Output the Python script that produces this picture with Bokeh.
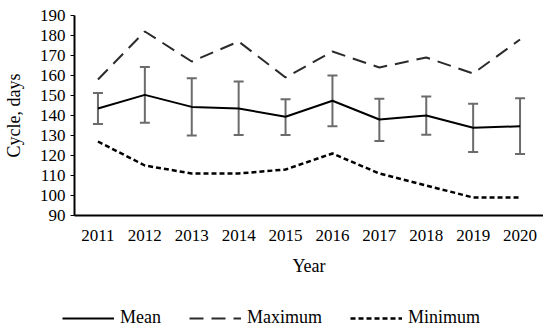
import math
from bokeh.plotting import figure
from bokeh.layouts import column
from bokeh.models import ColumnDataSource, Whisker, TeeHead, Legend, LegendItem, FactorRange
from bokeh.embed import file_html
from bokeh.resources import INLINE

years = ["2011", "2012", "2013", "2014", "2015", "2016", "2017", "2018", "2019", "2020"]
mean = [143.5, 150.3, 144.3, 143.5, 139.4, 147.4, 138.0, 140.0, 133.9, 134.6]
err_upper = [151.3, 164.3, 158.6, 157.0, 148.1, 160.0, 148.4, 149.5, 145.9, 148.6]
err_lower = [135.8, 136.4, 130.0, 130.3, 130.2, 134.6, 127.3, 130.4, 121.7, 120.8]
maximum = [158, 182, 167, 177, 159, 172, 164, 169, 161, 178]
minimum = [127, 115, 111, 111, 113, 121, 111, 105, 99, 99]
y_ticks = list(range(90, 191, 10))
series_names = ["Mean", "Maximum", "Minimum"]

FONT = "Liberation Serif"
STYLES = [dict(line_color="black", line_width=2),
          dict(line_color="#2b2b2b", line_width=2, line_dash="14 8"),
          dict(line_color="black", line_width=2.5, line_dash="5 3")]

p = figure(width=543, height=278, x_range=FactorRange(*years), y_range=(90, 190),
           output_backend="svg", toolbar_location=None,
           min_border_left=72, min_border_right=0, min_border_top=15, min_border_bottom=10)
p.frame_align = False

src = ColumnDataSource(dict(x=years, mean=mean, up=err_upper, lo=err_lower, mx=maximum, mn=minimum))

w = Whisker(base="x", upper="up", lower="lo", source=src, line_color="#6b6b6b", line_width=2,
            upper_head=TeeHead(size=10, line_color="#6b6b6b", line_width=2),
            lower_head=TeeHead(size=10, line_color="#6b6b6b", line_width=2))
p.add_layout(w)

p.line("x", "mean", source=src, **STYLES[0])
p.line("x", "mx", source=src, **STYLES[1])
p.line("x", "mn", source=src, **STYLES[2])

p.xgrid.visible = False
p.ygrid.visible = False
p.outline_line_color = None

p.yaxis.ticker = y_ticks
p.yaxis.axis_label = "Cycle, days"
p.xaxis.axis_label = "Year"
for ax in (p.xaxis[0], p.yaxis[0]):
    ax.axis_line_color = "black"
    ax.axis_line_width = 2
    ax.major_label_text_font = FONT
    ax.major_label_text_color = "black"
    ax.axis_label_text_font = FONT
    ax.axis_label_text_font_size = "18px"
    ax.axis_label_text_font_style = "normal"
    ax.axis_label_text_color = "black"
    ax.minor_tick_line_color = None

p.xaxis.major_label_text_font_size = "17px"
p.yaxis.major_label_text_font_size = "17px"
p.xaxis.major_tick_line_color = None
p.xaxis.major_label_standoff = 8
p.xaxis.axis_label_standoff = 12
p.yaxis.major_tick_line_color = "black"
p.yaxis.major_tick_out = 4
p.yaxis.major_tick_in = 0
p.yaxis.major_label_standoff = 5
p.yaxis.axis_label_standoff = 13

# legend strip below the chart
lg = figure(width=543, height=53, x_range=(0, 1), y_range=(0, 1),
            output_backend="svg", toolbar_location=None,
            min_border_left=0, min_border_right=0, min_border_top=0, min_border_bottom=0)
lg.frame_align = False
lg.axis.visible = False
lg.grid.visible = False
lg.outline_line_color = None
items = []
for name, st in zip(series_names, STYLES):
    r = lg.line(x=[math.nan], y=[math.nan], **st)
    items.append(LegendItem(label=name, renderers=[r]))

legend = Legend(items=items, orientation="horizontal", location=(62, 3),
                label_text_font=FONT, label_text_font_size="18px", label_text_color="black",
                glyph_width=52, glyph_height=20, spacing=28, border_line_color=None,
                background_fill_alpha=0, margin=0, padding=0, label_standoff=6)
lg.add_layout(legend, "center")

open("out.html", "w").write(file_html(column(p, lg), INLINE))
